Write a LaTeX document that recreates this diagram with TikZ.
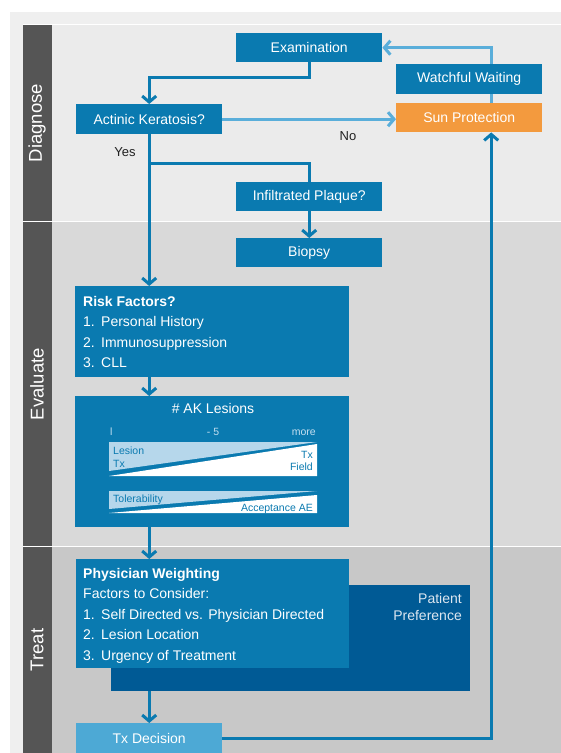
\documentclass[tikz,border=0pt]{standalone}
\usepackage{fontspec}
\setmainfont{Liberation Sans}
\usepackage{tikz}
\usetikzlibrary{arrows.meta}
\usetikzlibrary{positioning}
\usepackage{color}

\definecolor{akblue}{HTML}{0A7AB0}
\definecolor{lightline}{HTML}{5AAEDA}
\definecolor{sunorange}{HTML}{F39A3E}
\definecolor{prefblue}{HTML}{005A95}
\definecolor{txblue}{HTML}{4DA9D5}
\definecolor{wedge}{HTML}{B6D7EB}
\definecolor{scalelbl}{HTML}{C4DFF0}
\definecolor{strip}{HTML}{555555}
\definecolor{diagbg}{HTML}{EBEBEB}
\definecolor{evalbg}{HTML}{D9D9D9}
\definecolor{treatbg}{HTML}{C8C8C8}
\definecolor{outerbg}{HTML}{EFEFEF}
\definecolor{lbldark}{HTML}{222222}
\definecolor{preftxt}{HTML}{DCE6F0}

\tikzset{
    box/.style={anchor=north west,fill=akblue,text=white,inner sep=0pt,font=\fontsize{14}{16}\selectfont},
    boxtext/.style={anchor=north west,text=white,inner sep=0pt,align=left,font=\fontsize{14}{20.5}\selectfont},
    phase/.style={rotate=90,text=white,inner sep=0pt,font=\fontsize{18.5}{22}\selectfont},
    flow/.style={draw=akblue,line width=3pt,-{Straight Barb[length=6pt,width=14pt]}},
    link/.style={draw=akblue,line width=3pt},
    lightflow/.style={draw=lightline,line width=3pt,-{Straight Barb[length=6pt,width=14pt]}},
    bartext/.style={text=akblue,inner sep=0pt,font=\fontsize{10.5}{12.5}\selectfont},
    lbl/.style={text=lbldark,inner sep=0pt,font=\fontsize{13}{15}\selectfont}
}

\newcommand{\itemno}[1]{\makebox[18pt][l]{#1}}

\begin{document}
\begin{tikzpicture}[x=1pt,y=-1pt]
    \useasboundingbox (0,0) rectangle (561,753);

    % phase bands
    \fill[outerbg] (10,12) rectangle (561,753);
    \fill[diagbg] (23,25) rectangle (561,221);
    \fill[evalbg] (23,222) rectangle (561,546);
    \fill[treatbg] (23,547) rectangle (561,753);
    \fill[strip] (23,25) rectangle (52,753);
    \draw[white,line width=1pt] (23,24.5) -- (561,24.5);
    \draw[white,line width=1pt] (23,221.5) -- (561,221.5);
    \draw[white,line width=1pt] (23,546.5) -- (561,546.5);
    \node[phase] (diag) at (37,123) {Diagnose};
    \node[phase] (eval) at (37,384) {Evaluate};
    \node[phase] (treat) at (37,650) {Treat};

    % diagnose
    \node[box,minimum width=146,minimum height=29] (exam) at (236,33) {Examination};
    \node[box,fill=sunorange,minimum width=146,minimum height=29] (sun) at (396,103) {Sun Protection};
    \draw[lightflow] ([xshift=22pt]sun.north) |- (exam.east);
    \node[box,minimum width=146,minimum height=30] (wait) at (396,64) {Watchful Waiting};
    \node[box,minimum width=146,minimum height=30] (ak) at (76,104) {Actinic Keratosis?};
    \node[box,minimum width=146,minimum height=29] (plaque) at (236,182) {Infiltrated Plaque?};
    \node[box,minimum width=146,minimum height=29] (biopsy) at (236,238) {Biopsy};
    \node[lbl] (yes) at (125,152) {Yes};
    \node[lbl] (no) at (348,136) {No};

    % evaluate
    \node[box,minimum width=274,minimum height=91] (risk) at (75,286) {};
    \node[boxtext] (risktext) at (83,296) {\textbf{Risk Factors?}\\
        \itemno{1.}Personal History\\
        \itemno{2.}Immunosuppression\\
        \itemno{3.}CLL};
    \node[box,minimum width=274,minimum height=131] (lesions) at (75,396) {};
    \node[text=white,inner sep=0pt,anchor=base,font=\fontsize{14}{16}\selectfont] (lestitle) at (213,413) {\# AK Lesions};
    \node[bartext,text=scalelbl,anchor=base west] (scalelo) at (110,435) {l};
    \node[bartext,text=scalelbl,anchor=base] (scalemid) at (213,435) {- 5};
    \node[bartext,text=scalelbl,anchor=base east] (scalehi) at (316,435) {more};
    \fill[wedge] (109,442) -- (317,442) -- (109,471) -- cycle;
    \fill[white] (109,476) -- (317,476) -- (317,444) -- cycle;
    \fill[wedge] (109,491) -- (317,491) -- (109,509) -- cycle;
    \fill[white] (109,513) -- (317,513) -- (317,495) -- cycle;
    \node[bartext,anchor=north west,align=left] (lesiontx) at (113,447) {Lesion\\Tx};
    \node[bartext,anchor=north east,align=right] (fieldtx) at (313,451) {Tx\\Field};
    \node[bartext,anchor=base west] (toler) at (113,502) {Tolerability};
    \node[bartext,anchor=base east] (accept) at (313,511) {Acceptance AE};

    % treat
    \node[box,fill=prefblue,minimum width=359,minimum height=106] (pref) at (111,585) {};
    \node[boxtext,text=preftxt,anchor=north east,align=right,font=\fontsize{14}{17}\selectfont] (preftext) at (462,593) {Patient\\Preference};
    \node[box,minimum width=273,minimum height=109] (weigh) at (76,559) {};
    \node[boxtext] (weightext) at (83,568) {\textbf{Physician Weighting}\\
        Factors to Consider:\\
        \itemno{1.}Self Directed vs. Physician Directed\\
        \itemno{2.}Lesion Location\\
        \itemno{3.}Urgency of Treatment};
    \node[box,fill=txblue,minimum width=146,minimum height=30] (tx) at (76,723) {Tx Decision};

    % connectors
    \draw[flow] (exam.south) -- ++(0,15) -| (ak.north);
    \draw[lightflow] (ak.east) -- (ak.east -| sun.west);
    \draw[flow] (ak.south) -- (ak.south |- risk.north);
    \draw[link] (ak.south) ++(0,29) -| (plaque.north);
    \draw[flow] (plaque.south) -- (biopsy.north);
    \draw[flow] (risk.south -| ak.south) -- (lesions.north -| ak.south);
    \draw[flow] (lesions.south -| ak.south) -- (weigh.north -| ak.south);
    \draw[flow] (pref.south -| ak.south) -- (tx.north);
    \draw[flow] (tx.east) -| ([xshift=22pt]sun.south);
\end{tikzpicture}
\end{document}
